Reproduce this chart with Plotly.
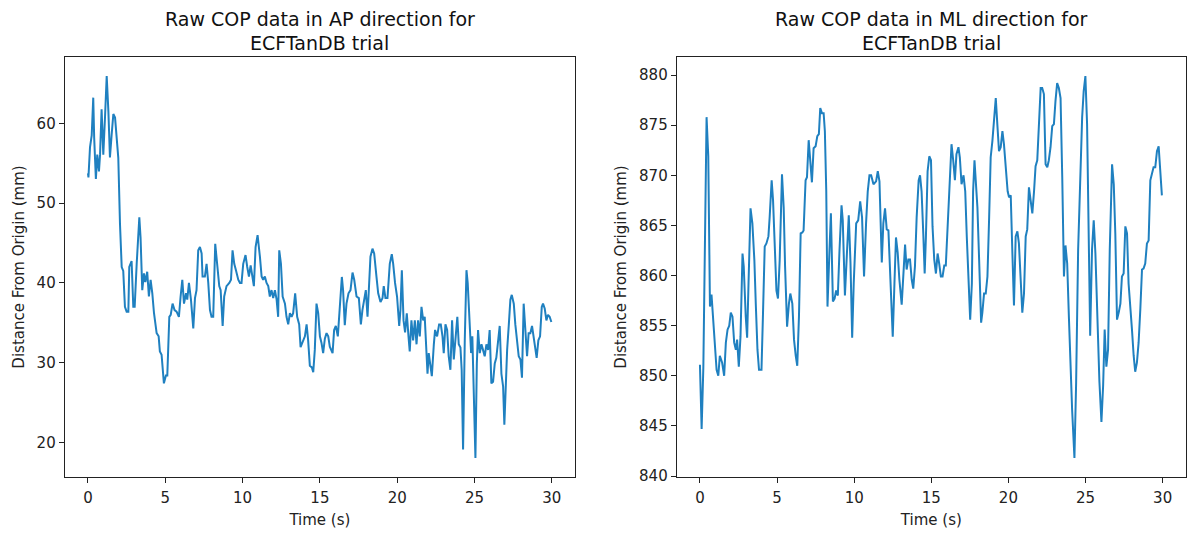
import plotly.graph_objects as go
from plotly.subplots import make_subplots

# Anterior-posterior centre of pressure trace
ap_time = [0.00, 0.03, 0.13, 0.24, 0.34, 0.40, 0.51, 0.60, 0.71, 0.78, 0.88, 0.99, 1.10, 1.21, 1.32,
           1.42, 1.53, 1.64, 1.75, 1.90, 1.96, 2.07, 2.18, 2.28, 2.39, 2.50, 2.61, 2.67, 2.82, 2.93,
           3.02, 3.15, 3.32, 3.40, 3.51, 3.62, 3.71, 3.83, 3.94, 4.05, 4.16, 4.27, 4.44, 4.57, 4.65,
           4.76, 4.91, 5.04, 5.13, 5.26, 5.35, 5.47, 5.60, 5.73, 5.88, 5.99, 6.10, 6.21, 6.34, 6.42,
           6.53, 6.66, 6.81, 6.92, 7.02, 7.13, 7.24, 7.35, 7.41, 7.56, 7.67, 7.78, 7.89, 7.99, 8.10,
           8.23, 8.32, 8.49, 8.58, 8.71, 8.81, 8.96, 9.14, 9.25, 9.35, 9.46, 9.57, 9.72, 9.83, 9.93,
           10.04, 10.19, 10.30, 10.41, 10.52, 10.64, 10.73, 10.84, 10.97, 11.12, 11.23, 11.33, 11.44,
           11.55, 11.66, 11.76, 11.87, 11.98, 12.09, 12.20, 12.30, 12.37, 12.48, 12.59, 12.74, 12.84,
           12.95, 13.06, 13.17, 13.27, 13.40, 13.53, 13.66, 13.75, 13.92, 14.03, 14.14, 14.24, 14.35,
           14.48, 14.57, 14.67, 14.78, 14.89, 15.00, 15.10, 15.21, 15.32, 15.43, 15.54, 15.64, 15.82,
           15.92, 16.03, 16.16, 16.29, 16.42, 16.50, 16.61, 16.72, 16.85, 16.98, 17.11, 17.22, 17.37,
           17.52, 17.65, 17.75, 17.86, 17.97, 18.08, 18.18, 18.27, 18.40, 18.51, 18.66, 18.77, 18.92,
           19.05, 19.13, 19.24, 19.37, 19.52, 19.65, 19.74, 19.86, 19.99, 20.13, 20.21, 20.30, 20.41,
           20.51, 20.62, 20.73, 20.81, 20.92, 21.03, 21.14, 21.25, 21.35, 21.46, 21.57, 21.68, 21.78,
           21.89, 21.96, 22.04, 22.15, 22.24, 22.37, 22.45, 22.58, 22.71, 22.82, 22.93, 23.01, 23.12,
           23.23, 23.33, 23.44, 23.55, 23.66, 23.77, 23.89, 23.98, 24.09, 24.17, 24.26, 24.37, 24.48,
           24.56, 24.67, 24.78, 24.86, 24.95, 25.06, 25.15, 25.23, 25.34, 25.45, 25.55, 25.66, 25.77,
           25.88, 25.98, 26.09, 26.20, 26.31, 26.41, 26.52, 26.63, 26.74, 26.85, 26.93, 27.02, 27.11,
           27.22, 27.32, 27.41, 27.54, 27.64, 27.75, 27.86, 27.97, 28.07, 28.18, 28.29, 28.40, 28.50,
           28.61, 28.72, 28.83, 28.94, 29.02, 29.13, 29.24, 29.35, 29.43, 29.54, 29.65, 29.75, 29.86,
           29.97]
ap_mm = [53.75, 53.25, 57.0, 58.5, 63.25, 58.2, 53.05, 56.1, 54.0, 56.1, 61.8, 56.1, 60.75, 65.96, 61.5,
         55.75, 58.6, 61.2, 60.75, 56.6, 55.7, 47.4, 42.0, 41.5, 37.0, 36.4, 36.4, 42.0, 42.75, 37.0,
         37.0, 42.4, 48.25, 45.7, 39.1, 41.2, 40.1, 41.4, 38.3, 40.4, 38.7, 36.2, 33.7, 33.3, 31.4,
         31.0, 27.4, 28.4, 28.4, 35.75, 36.0, 37.4, 36.6, 36.4, 35.75, 38.3, 40.4, 37.4, 38.7, 37.9,
         40.0, 37.9, 34.3, 38.1, 39.1, 44.1, 44.5, 43.7, 40.8, 40.8, 42.4, 40.0, 36.6, 35.75, 35.75,
         44.9, 43.3, 39.6, 39.1, 34.6, 38.3, 39.6, 40.0, 40.4, 44.1, 42.4, 41.6, 40.4, 40.0, 40.0,
         42.4, 43.5, 42.0, 40.8, 42.2, 40.4, 39.6, 44.5, 46.0, 43.3, 40.8, 40.4, 40.8,
         40.0, 39.6, 38.3, 39.1, 38.1, 39.1, 37.9, 35.75, 44.1, 42.4, 38.3, 37.4, 35.75,
         34.8, 36.2, 35.75, 36.2, 38.7, 35.75, 34.8, 31.95, 32.8, 33.3, 34.8, 32.8, 29.6,
         29.4, 28.8, 31.6, 37.4, 36.2, 33.3, 32.5, 31.2, 33.0, 33.7, 33.3, 32.0, 31.2,
         34.1, 34.6, 33.3, 36.6, 40.75, 39.1, 34.7, 37.4, 38.7, 39.1, 41.3, 40.4, 38.3,
         38.1, 34.8, 36.6, 37.9, 39.1, 35.75, 40.0, 43.3, 44.3, 43.7, 40.75, 38.7, 37.6,
         38.1, 39.6, 38.1, 38.1, 42.4, 43.6, 42.4, 40.0, 38.3, 34.6, 36.6, 41.6, 35.3,
         33.8, 36.2, 33.3, 31.4, 35.3, 32.8, 35.3, 32.3, 35.3, 33.3, 37.0, 35.3, 35.75,
         32.3, 28.6, 31.2, 29.6, 28.3, 32.3, 34.1, 33.3, 34.8, 34.8, 33.3, 31.2, 34.8,
         34.1, 30.8, 29.1, 35.3, 30.4, 33.3, 35.75, 32.3, 31.9, 29.1, 19.1, 32.8, 41.6,
         40.0, 35.3, 31.2, 33.3, 27.4, 18.05, 29.9, 34.1, 31.2, 32.3, 31.6, 30.8, 32.3,
         31.6, 34.1, 27.4, 27.6, 29.9, 30.6, 32.3, 34.6, 28.6, 27.0, 22.2, 27.4, 31.6,
         34.8, 37.9, 38.5, 37.4, 34.8, 32.8, 30.8, 30.4, 28.1, 37.4, 33.3, 30.8, 33.7,
         33.7, 34.6, 33.3, 31.6, 30.6, 32.8, 33.3, 37.0, 37.4, 36.8, 35.3, 36.0, 35.75,
         35.1]

# Medio-lateral centre of pressure trace
ml_time = [0.00, 0.11, 0.22, 0.32, 0.43, 0.54, 0.65, 0.75, 0.86, 0.97, 1.08, 1.19, 1.29, 1.44, 1.57,
           1.68, 1.79, 1.90, 2.00, 2.11, 2.22, 2.33, 2.41, 2.52, 2.63, 2.76, 2.84, 2.97, 3.06, 3.15,
           3.28, 3.40, 3.53, 3.62, 3.73, 3.83, 3.99, 4.09, 4.20, 4.31, 4.44, 4.52, 4.65, 4.74, 4.87,
           4.96, 5.06, 5.17, 5.32, 5.43, 5.52, 5.65, 5.77, 5.86, 5.99, 6.10, 6.21, 6.31, 6.42, 6.53,
           6.64, 6.72, 6.85, 6.94, 7.05, 7.15, 7.26, 7.37, 7.50, 7.61, 7.71, 7.80, 7.91, 8.02, 8.10,
           8.19, 8.27, 8.40, 8.49, 8.62, 8.73, 8.83, 8.94, 9.05, 9.18, 9.26, 9.40, 9.52, 9.65, 9.76,
           9.87, 9.97, 10.13, 10.26, 10.39, 10.51, 10.64, 10.77, 10.88, 10.99, 11.10, 11.25, 11.42,
           11.53, 11.64, 11.79, 11.89, 12.00, 12.11, 12.22, 12.33, 12.43, 12.50, 12.61, 12.71, 12.82,
           12.93, 13.08, 13.19, 13.30, 13.40, 13.51, 13.62, 13.73, 13.83, 13.94, 14.05, 14.18, 14.27,
           14.37, 14.48, 14.57, 14.65, 14.76, 14.87, 14.98, 15.08, 15.19, 15.30, 15.41, 15.51, 15.62,
           15.73, 15.84, 15.94, 16.05, 16.16, 16.31, 16.42, 16.53, 16.63, 16.76, 16.85, 16.96, 17.09,
           17.20, 17.30, 17.41, 17.52, 17.63, 17.71, 17.80, 17.88, 17.99, 18.10, 18.23, 18.31, 18.42,
           18.53, 18.64, 18.75, 18.85, 18.96, 19.07, 19.18, 19.28, 19.39, 19.50, 19.61, 19.71, 19.82,
           19.95, 20.04, 20.15, 20.25, 20.36, 20.47, 20.58, 20.68, 20.79, 20.90, 21.01, 21.12, 21.22,
           21.33, 21.44, 21.55, 21.66, 21.76, 21.87, 21.98, 22.09, 22.19, 22.30, 22.41, 22.52, 22.62,
           22.73, 22.84, 22.95, 23.05, 23.16, 23.27, 23.38, 23.49, 23.60, 23.70, 23.81, 23.92, 24.03,
           24.13, 24.28, 24.39, 24.52, 24.63, 24.78, 24.88, 24.99, 25.10, 25.21, 25.30, 25.42, 25.53,
           25.64, 25.81, 25.90, 26.03, 26.14, 26.24, 26.35, 26.46, 26.57, 26.72, 26.83, 26.93, 27.04,
           27.15, 27.26, 27.36, 27.47, 27.58, 27.69, 27.79, 27.90, 28.01, 28.12, 28.22, 28.33, 28.44,
           28.55, 28.66, 28.76, 28.87, 28.98, 29.09, 29.20, 29.30, 29.41, 29.52, 29.63, 29.74, 29.84,
           29.95]
ml_mm = [851.1, 844.7, 850.8, 865.8, 875.8, 871.9, 856.9, 858.1, 855.9, 853.3, 850.6, 850.0, 852.0, 851.3, 850.0,
         853.3, 854.6, 855.0, 856.3, 855.9, 853.3, 852.6, 853.6, 850.9, 853.9, 862.2, 860.9, 855.9, 853.8, 859.2,
         866.7, 865.2, 861.5, 857.2, 852.6, 850.6, 850.6, 856.3, 862.9, 863.2, 863.9, 865.8, 869.5, 867.5, 861.9,
         858.5, 857.7, 861.5, 870.1, 866.8, 860.9, 854.9, 857.2, 858.2, 857.2, 853.6, 852.0, 851.0, 855.9, 864.2,
         864.3, 864.5, 869.5, 869.8, 873.5, 871.8, 869.3, 872.7, 872.9, 873.9, 874.1, 876.7, 876.2, 876.2, 874.4,
         868.4, 856.9, 862.6, 866.2, 857.4, 857.7, 858.5, 858.0, 862.6, 867.0, 865.5, 858.0, 861.9, 866.0, 861.3,
         853.8, 859.2, 865.2, 865.5, 867.4, 865.8, 859.9, 865.2, 868.4, 870.0, 870.0, 869.1, 869.4,
         870.4, 869.4, 861.3, 865.2, 866.7, 864.6, 864.5, 860.9, 856.3, 853.9, 859.2, 863.8, 862.3,
         859.6, 857.1, 859.9, 863.1, 860.6, 861.6, 861.6, 859.6, 858.7, 860.9, 865.8, 869.5, 870.0,
         868.4, 864.2, 860.2, 863.8, 870.4, 871.9, 871.5, 864.9, 861.6, 860.2, 862.2, 861.2, 859.9,
         859.9, 861.0, 861.0, 864.9, 869.1, 873.1, 871.5, 869.5, 872.1, 872.8, 871.8, 869.1, 870.0,
         868.4, 863.9, 859.2, 855.6, 859.2, 868.4, 871.5, 869.8, 866.8, 861.6, 855.3, 856.3, 858.2,
         858.2, 859.9, 865.8, 871.8, 873.4, 875.8, 877.7, 875.1, 872.4, 872.8, 874.4, 873.1, 870.5,
         868.4, 867.8, 868.0, 862.6, 857.0, 863.9, 864.4, 863.2, 859.2, 856.3, 858.2, 863.9, 864.6,
         868.8, 867.5, 866.2, 868.4, 870.9, 871.5, 875.8, 878.7, 878.7, 878.1, 871.1, 870.8, 871.5,
         872.8, 874.9, 875.1, 877.4, 879.2, 878.7, 877.7, 869.8, 859.9, 863.0, 861.2, 855.9, 850.9,
         846.6, 841.8, 849.3, 862.6, 869.1, 875.8, 878.4, 879.9, 875.1, 864.6, 854.0, 862.6, 865.5,
         862.2, 853.3, 849.4, 845.4, 849.0, 854.6, 850.9, 852.6, 862.6, 871.1, 869.1, 864.2, 855.6,
         856.3, 857.2, 859.9, 860.2, 864.9, 864.2, 859.2, 857.2, 854.6, 852.0, 850.4, 851.3, 853.3,
         856.6, 860.6, 860.7, 861.2, 863.2, 863.5, 869.5, 870.1, 870.8, 870.8, 872.4, 872.9, 870.8,
         868.0]

x_ticks = [0, 5, 10, 15, 20, 25, 30]
ap_ticks = [20, 30, 40, 50, 60]
ml_ticks = [840, 845, 850, 855, 860, 865, 870, 875, 880]

titles = [["Raw COP data in AP direction for", "ECFTanDB trial"],
          ["Raw COP data in ML direction for", "ECFTanDB trial"]]

LINE_COLOR = "#1f80c0"
FONT = "DejaVu Sans"
W, H = 1187, 534
TOP, BOTTOM = 57, 57

fig = make_subplots(rows=1, cols=2)
fig.add_trace(go.Scatter(x=ap_time, y=ap_mm, mode="lines",
                         line=dict(color=LINE_COLOR, width=2), showlegend=False), row=1, col=1)
fig.add_trace(go.Scatter(x=ml_time, y=ml_mm, mode="lines",
                         line=dict(color=LINE_COLOR, width=2), showlegend=False), row=1, col=2)

axis_style = dict(showline=True, mirror=True, linecolor="#222222", linewidth=1.2,
                  ticks="outside", ticklen=5, tickcolor="#222222", tickwidth=1.2,
                  showgrid=False, zeroline=False,
                  tickfont=dict(family=FONT, size=15, color="#222222"))

left_dom = [64.8 / W, 575 / W]
right_dom = [676.8 / W, 1185.8 / W]

fig.update_xaxes(**axis_style, tickvals=x_ticks, range=[-1.5, 31.5], ticklabelstandoff=2,
                 title=dict(text="Time (s)", font=dict(family=FONT, size=15, color="#222222"),
                            standoff=8))
fig.update_yaxes(**axis_style,
                 title=dict(text="Distance From Origin (mm)",
                            font=dict(family=FONT, size=15, color="#222222"), standoff=8))
fig.update_xaxes(domain=left_dom, row=1, col=1)
fig.update_xaxes(domain=right_dom, row=1, col=2)
fig.update_yaxes(tickvals=ap_ticks, range=[15.65, 68.35], row=1, col=1)
fig.update_yaxes(tickvals=ml_ticks, range=[839.9, 881.8], row=1, col=2)

plot_h = H - TOP - BOTTOM
for dom, lines in zip([left_dom, right_dom], titles):
    cx = (dom[0] + dom[1]) / 2
    for py, txt in zip([19, 43], lines):
        fig.add_annotation(text=txt, x=cx, xref="paper", xanchor="center",
                           y=(H - BOTTOM - py) / plot_h, yref="paper", yanchor="middle",
                           showarrow=False, font=dict(family=FONT, size=19, color="#111111"))

fig.update_layout(width=W, height=H, margin=dict(l=0, r=0, t=TOP, b=BOTTOM),
                  paper_bgcolor="white", plot_bgcolor="white",
                  font=dict(family=FONT))

fig.write_html("out.html")
